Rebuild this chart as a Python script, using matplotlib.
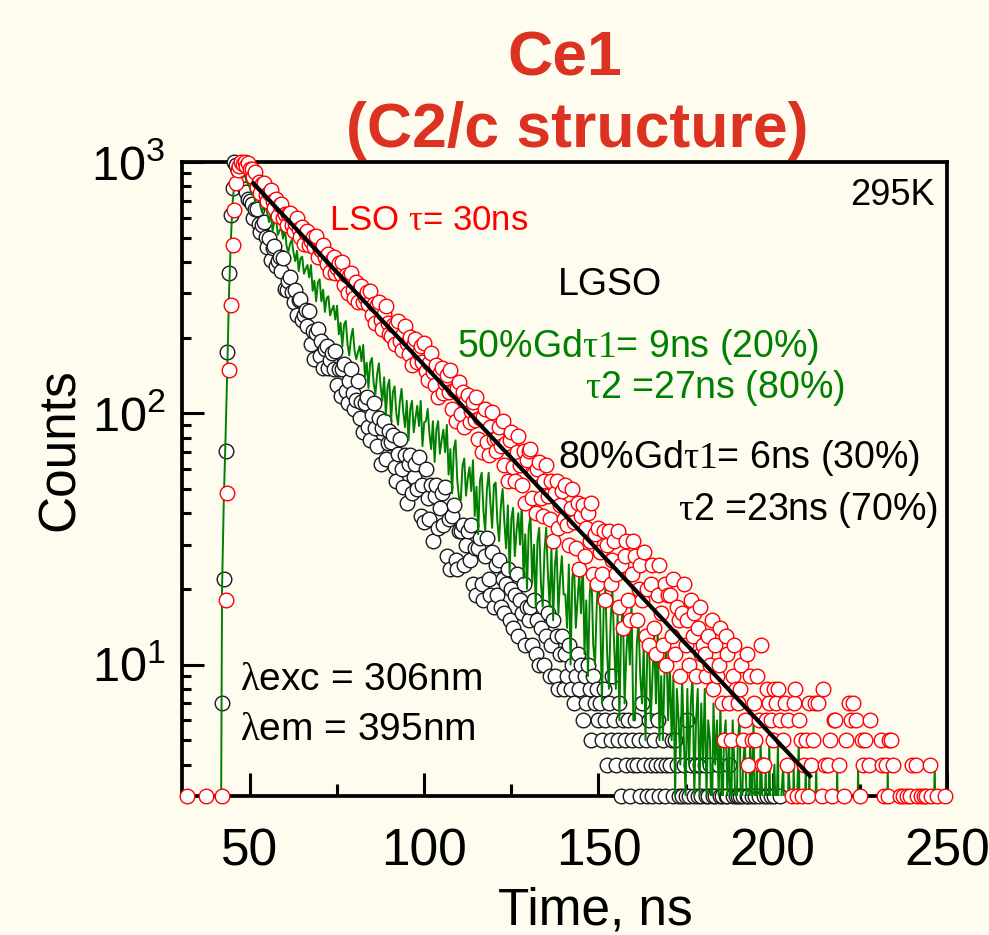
import numpy as np
import matplotlib.pyplot as plt

plt.rcParams['font.family'] = ['Liberation Sans', 'DejaVu Sans']
plt.rcParams['mathtext.fontset'] = 'custom'
plt.rcParams['mathtext.rm'] = 'Liberation Serif'
plt.rcParams['mathtext.it'] = 'Liberation Serif:italic'
plt.rcParams['mathtext.bf'] = 'Liberation Serif:bold'
plt.rcParams['mathtext.sf'] = 'Liberation Sans'

### DATA ###
# time channels: 0.5 ns wide, first channel at 30.5 ns
t_start = 30.5
t_step = 0.5

# LSO (red circles), counts per channel, one row = 10 ns
lso_counts = [
    0, 0, 0, 3, 0, 0, 0, 0, 0, 0, 0, 0, 0, 0, 3, 0, 0, 0, 0, 0,
    0, 0, 0, 3, 0, 18, 48, 149, 269, 468, 645, 822, 930, 960, 1000, 985, 1000, 965, 990, 940,
    934, 869, 916, 798, 833, 751, 817, 825, 740, 702, 749, 773, 701, 658, 712, 612, 673, 683, 601, 623,
    562, 618, 627, 559, 532, 574, 597, 539, 505, 551, 471, 522, 532, 467, 486, 504, 459, 506, 417, 451,
    447, 466, 419, 391, 430, 364, 407, 417, 363, 380, 395, 358, 398, 325, 354, 302, 351, 360, 308, 288,
    332, 277, 314, 321, 276, 291, 303, 273, 306, 246, 271, 228, 270, 278, 234, 217, 248, 266, 229, 207,
    203, 224, 188, 224, 232, 193, 179, 206, 223, 190, 172, 202, 156, 189, 198, 160, 173, 186, 160, 191,
    147, 135, 159, 173, 146, 129, 156, 116, 145, 152, 120, 132, 142, 121, 148, 104, 124, 93, 126, 133,
    99, 121, 88, 112, 118, 92, 102, 111, 94, 116, 79, 96, 70, 97, 104, 77, 68, 88, 101, 79,
    71, 80, 88, 74, 93, 62, 76, 54, 78, 84, 61, 54, 70, 81, 62, 52, 71, 44, 65, 71,
    72, 46, 58, 40, 60, 64, 46, 39, 54, 62, 47, 38, 54, 31, 48, 54, 35, 43, 49, 38,
    52, 36, 30, 42, 50, 37, 29, 44, 24, 39, 43, 27, 35, 40, 31, 44, 23, 33, 21, 35,
    28, 23, 34, 18, 30, 34, 21, 26, 31, 23, 34, 17, 25, 14, 27, 31, 18, 15, 23, 31,
    27, 15, 20, 25, 18, 28, 13, 20, 12, 21, 25, 14, 11, 19, 25, 16, 12, 21, 10, 19,
    19, 13, 22, 11, 17, 15, 9, 16, 21, 12, 15, 10, 18, 13, 16, 9, 14, 17, 11, 12,
    11, 9, 13, 10, 15, 8, 12, 9, 10, 14, 7, 5, 13, 11, 7, 5, 9, 12, 8, 7,
    8, 10, 5, 6, 11, 4, 9, 5, 7, 5, 9, 6, 12, 4, 4, 6, 8, 7, 6, 5,
    8, 7, 8, 6, 2, 5, 7, 4, 6, 2, 3, 7, 8, 3, 6, 5, 3, 4, 5, 3,
    7, 4, 5, 7, 2, 7, 2, 3, 8, 4, 2, 4, 5, 3, 6, 6, 2, 4, 1, 2,
    3, 5, 2, 7, 6, 7, 1, 6, 2, 3, 5, 4, 5, 2, 4, 6, 2, 1, 2, 2,
    1, 5, 4, 3, 4, 3, 5, 5, 4, 2, 1, 2, 3, 1, 3, 2, 3, 1, 3, 4,
    2, 4, 3, 2, 3, 2, 3, 3, 2, 4, 3, 2, 1, 3, 2, 1, 2, 2, 3, 2,
]

# LGSO 80%Gd (black circles)
lgso80_counts = [
    0, 0, 0, 0, 0, 0, 0, 0, 0, 0, 0, 0, 0, 0, 0, 0, 0, 0, 0, 0,
    0, 0, 0, 7, 22, 71, 175, 363, 614, 786, 1000, 975, 932, 918, 856, 838, 781, 760, 715, 698,
    683, 598, 648, 647, 566, 526, 560, 576, 503, 458, 500, 406, 456, 462, 386, 404, 420, 367, 414, 312,
    309, 336, 349, 304, 276, 308, 246, 281, 286, 234, 247, 257, 222, 256, 189, 213, 165, 209, 216, 169,
    194, 151, 180, 186, 151, 163, 173, 150, 177, 130, 150, 117, 150, 157, 123, 110, 134, 150, 120, 104,
    113, 134, 96, 111, 84, 110, 116, 88, 78, 98, 110, 87, 74, 96, 63, 87, 93, 66, 76, 85,
    77, 82, 61, 54, 69, 79, 60, 51, 68, 44, 63, 68, 48, 56, 63, 50, 67, 39, 52, 37,
    60, 46, 38, 52, 31, 47, 52, 35, 42, 48, 36, 51, 27, 38, 24, 39, 43, 26, 24, 34,
    34, 36, 25, 30, 34, 26, 36, 21, 29, 19, 29, 32, 21, 18, 27, 32, 22, 19, 28, 17,
    25, 19, 26, 17, 22, 16, 21, 24, 15, 20, 14, 19, 23, 13, 18, 16, 21, 12, 17, 15,
    17, 12, 18, 11, 15, 10, 14, 17, 10, 13, 16, 9, 12, 15, 9, 13, 8, 11, 13, 8,
    11, 9, 12, 8, 10, 7, 9, 11, 8, 10, 6, 9, 7, 10, 8, 5, 9, 7, 8, 6,
    7, 5, 8, 6, 4, 7, 5, 9, 6, 4, 5, 7, 3, 6, 5, 4, 6, 3, 5, 4,
    6, 4, 5, 3, 7, 4, 5, 3, 6, 4, 3, 5, 4, 6, 3, 4, 5, 3, 4, 2,
    4, 5, 3, 5, 4, 3, 2, 3, 4, 3, 6, 3, 4, 2, 3, 4, 3, 4, 3, 2,
    4, 3, 3, 4, 2, 3, 3, 2, 4, 3, 3, 2, 3, 3, 4, 2, 3, 2, 3, 3,
    3, 2, 3, 2, 3, 3, 1, 3, 2, 3, 2, 3, 2, 1, 3, 2, 3, 2, 3, 2,
    3, 2, 1, 3, 2, 2, 1, 2, 1, 2, 1, 2, 1, 1, 2, 1, 0, 2, 1, 1,
    1, 2, 0, 1, 2, 1, 0, 1, 2, 1, 0, 1, 1, 2, 0, 1, 0, 1, 2, 0,
    1, 0, 1, 2, 0, 1, 1, 0, 2, 1, 0, 1, 0, 1, 2, 0, 1, 0, 1, 1,
    0, 1, 2, 0, 1, 0, 1, 1, 0, 2, 1, 0, 1, 0, 1, 1, 0, 1, 0, 1,
    1, 0, 1, 1, 0, 1, 2, 0, 1, 0, 1, 1, 0, 1, 0, 2, 1, 0, 1, 0,
]

# LGSO 50%Gd (green line)
lgso50_counts = [
    0, 0, 0, 0, 0, 0, 0, 0, 0, 0, 0, 0, 0, 0, 0, 0, 0, 0, 0, 0,
    0, 0, 0, 20, 45, 80, 150, 300, 480, 680, 820, 930, 1000, 945, 915, 870, 892, 835, 812, 790,
    740, 770, 687, 748, 751, 666, 628, 672, 693, 621, 576, 627, 529, 585, 594, 513, 533, 550, 495, 548,
    464, 436, 472, 490, 436, 403, 443, 368, 413, 420, 359, 375, 389, 347, 389, 307, 337, 279, 332, 341,
    279, 310, 253, 287, 292, 245, 258, 268, 236, 268, 206, 229, 184, 225, 233, 188, 170, 200, 217, 179,
    164, 175, 185, 161, 187, 140, 159, 126, 159, 166, 132, 119, 143, 158, 128, 112, 139, 98, 128, 136,
    93, 121, 128, 100, 90, 111, 125, 101, 88, 112, 78, 104, 112, 84, 96, 107, 89, 112, 74, 92,
    93, 104, 83, 72, 93, 64, 86, 93, 69, 78, 86, 70, 90, 57, 72, 48, 72, 78, 54, 46,
    45, 62, 66, 47, 55, 61, 49, 65, 39, 51, 33, 54, 58, 41, 34, 50, 58, 44, 35, 52,
    53, 37, 31, 43, 50, 37, 29, 43, 23, 38, 42, 27, 34, 40, 30, 44, 22, 33, 20, 35,
    39, 21, 30, 17, 31, 35, 21, 17, 28, 35, 23, 17, 29, 15, 25, 29, 16, 22, 27, 19,
    19, 14, 25, 10, 22, 25, 14, 18, 23, 16, 26, 11, 18, 9, 19, 23, 12, 10, 17, 23,
    16, 7, 17, 20, 11, 8, 15, 20, 12, 8, 16, 6, 14, 17, 7, 11, 15, 10, 18, 6,
    6, 12, 15, 9, 7, 12, 5, 11, 13, 6, 9, 13, 7, 14, 5, 9, 5, 10, 12, 6,
    10, 5, 9, 3, 8, 6, 4, 9, 5, 3, 8, 4, 7, 9, 3, 6, 8, 3, 7, 4,
    8, 3, 6, 5, 2, 7, 4, 6, 3, 7, 2, 5, 6, 3, 5, 2, 6, 4, 2, 5,
    6, 2, 4, 5, 3, 1, 5, 3, 6, 2, 4, 1, 5, 3, 2, 4, 1, 5, 2, 3,
    4, 2, 5, 1, 3, 4, 2, 0, 4, 3, 1, 4, 2, 3, 5, 1, 3, 2, 4, 1,
    4, 1, 3, 2, 4, 1, 2, 0, 3, 1, 2, 1, 3, 0, 2, 1, 4, 1, 2, 0,
    2, 1, 2, 0, 3, 1, 2, 1, 4, 0, 2, 1, 2, 0, 1, 2, 1, 0, 2, 1,
    2, 0, 1, 2, 1, 4, 1, 0, 2, 1, 3, 1, 0, 2, 1, 1, 2, 0, 1, 2,
    1, 0, 2, 1, 0, 1, 2, 1, 3, 0, 1, 2, 4, 1, 0, 2, 1, 0, 1, 2,
]

# single exponential fit of LSO (tau = 30 ns), end points
fit_t = [51.0, 210.7]
fit_counts = [822, 3.6]

x_ticks = [50, 100, 150, 200, 250]
x_minor = [75, 125, 175, 225]

bg = '#fefcef'


def visible(c):
    # points below the bottom of the axis are not drawn
    c = np.asarray(c, dtype=float)
    return np.where(c >= 3, c, np.nan)


t = t_start + t_step * np.arange(len(lso_counts))

fig = plt.figure(figsize=(9.89, 9.35), dpi=100, facecolor=bg)
ax = fig.add_axes([0.184, 0.1487, 0.7735, 0.6781])
ax.set_facecolor(bg)
ax.set_yscale('log')
ax.set_xlim(30.5, 250)
ax.set_ylim(3, 1000)

ax.plot(t, visible(lgso80_counts), 'o', ms=10.5, mfc='white', mec='#1a1a1a',
        mew=1.0, clip_on=False, zorder=3)
ax.plot(t, np.clip(lgso50_counts, 0.5, None), color='#008000', lw=1.4, zorder=4)
ax.plot(t, visible(lso_counts), 'o', ms=10.5, mfc='white', mec='#ff0000',
        mew=1.0, clip_on=False, zorder=5)
ax.plot(fit_t, fit_counts, color='black', lw=3, zorder=6)

for s in ax.spines.values():
    s.set_linewidth(2.7)

ax.set_xticks(x_ticks)
ax.set_xticks(x_minor, minor=True)
ax.yaxis.set_minor_formatter(plt.NullFormatter())
ax.tick_params(axis='x', which='major', direction='in', length=16.5, width=2.2,
               labelsize=37, pad=23, top=False)
ax.tick_params(axis='x', which='minor', direction='in', length=8.4, width=2.2, top=False)
ax.tick_params(axis='y', which='major', direction='in', length=15.6, width=2.2,
               labelsize=35, pad=12, right=False)
ax.tick_params(axis='y', which='minor', direction='in', length=6.7, width=2.2, right=False)

ax.set_xlabel('Time, ns', fontsize=37)
ax.xaxis.set_label_coords(0.54, -0.143)
ax.set_ylabel('Counts', fontsize=37)
ax.yaxis.set_label_coords(-0.127, 0.546)

# title
red_title = '#dc3222'
fig.text(565 / 989, 1 - 75 / 935, 'Ce1', ha='center', va='baseline',
         fontsize=45, fontweight='bold', color=red_title)
fig.text(577 / 989, 1 - 147 / 935, '(C2/c structure)', ha='center', va='baseline',
         fontsize=45, fontweight='bold', color=red_title)

# annotations
green = '#008000'
notes = [
    (0.192, 0.893, r'LSO $\mathrm{\tau}$= 30ns', '#ff0000', 25),
    (0.873, 0.932, '295K', 'black', 26),
    (0.4915, 0.790, 'LGSO', 'black', 27),
    (0.3595, 0.6924, r'50%Gd$\mathrm{\tau1}$= 9ns (20%)', green, 27),
    (0.5268, 0.6278, r'$\mathrm{\tau}$2 =27ns (80%)', green, 27),
    (0.4915, 0.5174, r'80%Gd$\mathrm{\tau1}$= 6ns (30%)', 'black', 27),
    (0.6484, 0.4353, r'$\mathrm{\tau}$2 =23ns (70%)', 'black', 27),
    (0.0758, 0.1672, r'$\mathrm{\lambda}$exc = 306nm', 'black', 28),
    (0.0758, 0.0883, r'$\mathrm{\lambda}$em = 395nm', 'black', 28),
]
for x, y, s, c, fs in notes:
    ax.text(x, y, s, transform=ax.transAxes, ha='left', va='baseline',
            color=c, fontsize=fs, zorder=7)

fig.savefig('out.png', dpi=100, facecolor=bg)
